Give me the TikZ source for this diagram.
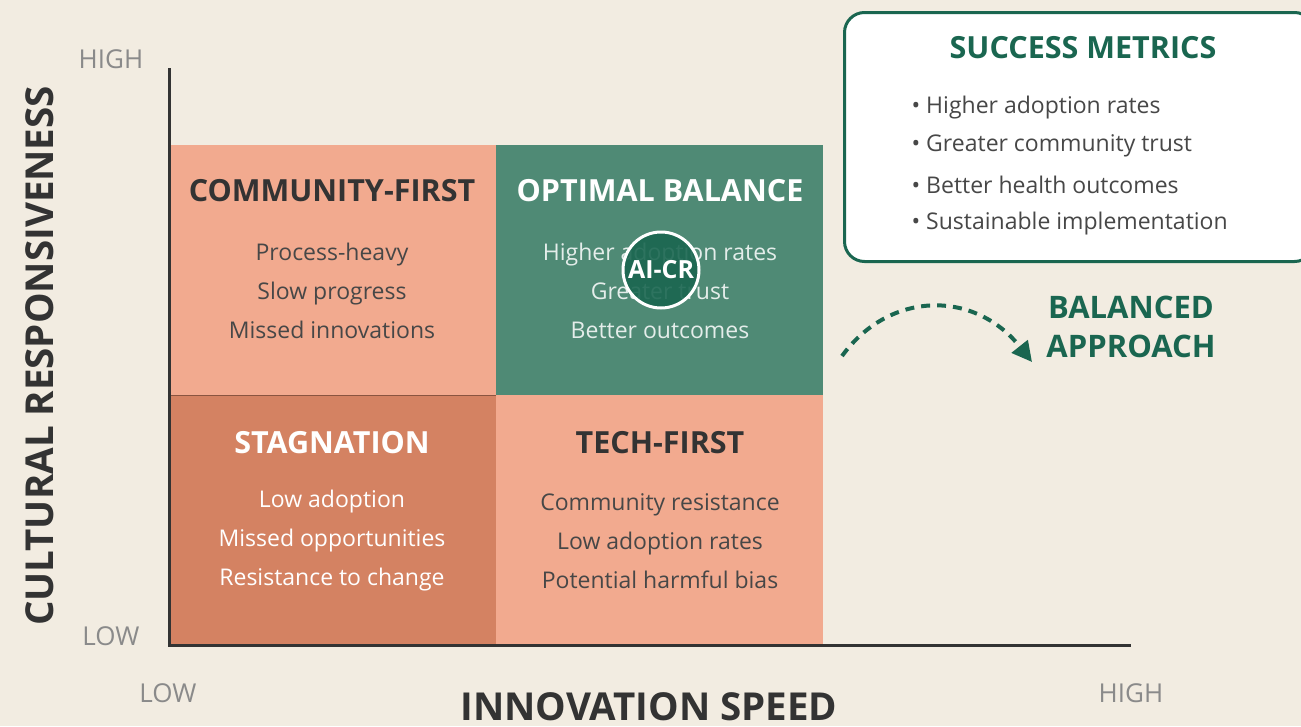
\documentclass[tikz,border=0pt]{standalone}
\usepackage{fontspec}
\setmainfont{Open Sans}
\usetikzlibrary{arrows.meta,positioning,calc}

\definecolor{cream}{HTML}{F2ECE1}
\definecolor{salmon}{HTML}{F2AA8F}
\definecolor{terra}{HTML}{D48262}
\definecolor{sage}{HTML}{4F8A75}
\definecolor{forest}{HTML}{1A6650}
\definecolor{ink}{HTML}{333333}
\definecolor{softgray}{HTML}{8A8A8A}

\begin{document}
\begin{tikzpicture}[x=1pt, y=-1pt, semithick,
    cell/.style={minimum width=327pt, minimum height=250pt, inner sep=0pt, outer sep=0pt},
    head/.style={font=\bfseries\fontsize{30.5}{36}\selectfont},
    body/.style={font=\fontsize{23}{39}\selectfont, align=center},
    tick/.style={text=softgray, font=\fontsize{26}{30}\selectfont},
    axislabel/.style={text=ink, font=\bfseries\fontsize{38.5}{44}\selectfont},
    metric/.style={anchor=west, text=ink!90, font=\fontsize{23}{27}\selectfont}]

    % canvas
    \fill[cream] (0,0) rectangle (1301,726);
    \useasboundingbox (0,0) rectangle (1301,726);

    % quadrants
    \node[cell, fill=salmon]                          (commfirst) at (332.5,270) {};
    \node[cell, fill=sage]                            (optimal)   at (659.5,270) {};
    \node[cell, fill=terra, draw=terra!65!black, thin] (stagnate)  at (332.5,520) {};
    \node[cell, fill=salmon]                          (techfirst) at (659.5,520) {};

    % quadrant titles and notes
    \node[head, text=ink]   (commhead)  at (332,191) {COMMUNITY-FIRST};
    \node[body, text=ink!90] (commbody) at (332,291) {Process-heavy\\Slow progress\\Missed innovations};

    \node[head, text=white] (opthead)   at (660,191) {OPTIMAL BALANCE};
    \node[body, text=white!85!sage] (optbody) at (660,291) {Higher adoption rates\\Greater trust\\Better outcomes};

    \node[head, text=white] (staghead)  at (332,443) {STAGNATION};
    \node[body, text=white] (stagbody)  at (332,541) {Low adoption\\Missed opportunities\\Resistance to change};

    \node[head, text=ink]   (techhead)  at (660,443) {TECH-FIRST};
    \node[body, text=ink!90] (techbody) at (660,541) {Community resistance\\Low adoption rates\\Potential harmful bias};

    % marker
    \node[circle, minimum size=76pt, inner sep=0pt, fill=forest, fill opacity=0.9, text opacity=1,
          draw=white, line width=3pt, text=white, font=\bfseries\fontsize{25}{30}\selectfont]
          (aicr) at (661,270) {AI-CR};

    % axes
    \coordinate (ytop)   at (169,68);
    \coordinate (origin) at (169,645);
    \coordinate (xend)   at (1131,645);
    \draw[ink, line width=3pt] (ytop) -- (origin) -- (xend);

    \node[tick] (yhigh) at (111,59)   {HIGH};
    \node[tick] (ylow)  at (111,636)  {LOW};
    \node[tick] (xlow)  at (168,693)  {LOW};
    \node[tick] (xhigh) at (1131,693) {HIGH};

    \node[axislabel, rotate=90] (ylabel) at (40,356) {CULTURAL RESPONSIVENESS};
    \node[axislabel]            (xlabel) at (649,707) {INNOVATION SPEED};

    % success metrics
    \node[draw=forest, line width=3pt, fill=white, rounded corners=20pt, anchor=north west,
          minimum width=470pt, minimum height=249pt] (metricsbox) at (843,11) {};
    \node[text=forest, font=\bfseries\fontsize{30.5}{36}\selectfont] (metricshead) at (1083,48) {SUCCESS METRICS};
    \node[metric] (mone)   at (908,108) {\textbullet\ Higher adoption rates};
    \node[metric] (mtwo)   at (908,146) {\textbullet\ Greater community trust};
    \node[metric] (mthree) at (908,185) {\textbullet\ Better health outcomes};
    \node[metric] (mfour)  at (908,224) {\textbullet\ Sustainable implementation};

    % balanced approach
    \coordinate (arrstart) at (842,356);
    \coordinate (arrend)   at (1032,362);
    \draw[forest, line width=4pt, dash pattern=on 9pt off 7pt,
          -{Triangle[length=20pt, width=20pt]}]
          (arrstart) .. controls (890,290) and (975,290) .. (arrend);
    \node[text=forest, align=center, font=\bfseries\fontsize{31}{39}\selectfont] (balanced) at (1131,327) {BALANCED\\APPROACH};

\end{tikzpicture}
\end{document}
